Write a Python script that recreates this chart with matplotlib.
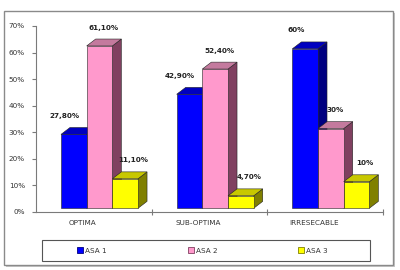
import numpy as np
import matplotlib.pyplot as plt
from matplotlib.patches import Polygon, Rectangle
from matplotlib.lines import Line2D

# Data
categories = ['OPTIMA', 'SUB-OPTIMA', 'IRRESECABLE']
series = ['ASA 1', 'ASA 2', 'ASA 3']
asa1 = [27.8, 42.9, 60.0]
asa2 = [61.1, 52.4, 30.0]
asa3 = [11.1, 4.7, 10.0]
yticks = [0, 10, 20, 30, 40, 50, 60, 70]

# Style
front = ['#0000FF', '#FF99CC', '#FFFF00']
top = ['#0000C0', '#C47A9E', '#C8C800']
side = ['#000080', '#804060', '#808000']
lab_off = [-0.08, 0.035, 0.07]   # label x shift per series
w = 0.222       # bar width (category units)
x0 = 0.216      # first bar offset inside category
dx = 0.078      # depth x
dy = 2.6        # depth y (percent units)
base = 1.4      # floor lift

def fmt(v):
    if float(v).is_integer():
        return f'{int(v)}%'
    return f'{v:.2f}'.replace('.', ',') + '%'

fig = plt.figure(figsize=(4, 2.7), dpi=100)

# Chart frame with shadow
fig.patches.append(Rectangle((6 / 400, 3 / 270), 389 / 400, 254 / 270, transform=fig.transFigure,
                             facecolor='#c8c8c8', edgecolor='none', zorder=0))
fig.patches.append(Rectangle((4 / 400, 5 / 270), 389 / 400, 254 / 270, transform=fig.transFigure,
                             facecolor='white', edgecolor='#8a8a8a', lw=1, zorder=1))
# Legend frame
fig.patches.append(Rectangle((42 / 400, 9 / 270), 328 / 400, 21 / 270, transform=fig.transFigure,
                             facecolor='white', edgecolor='#555555', lw=0.8, zorder=2))

ax = fig.add_axes([36 / 400, 58 / 270, 347 / 400, 186 / 270])
ax.set_zorder(5)
ax.set_xlim(0, 3)
ax.set_ylim(0, 70)
ax.patch.set_alpha(0)

data = [asa1, asa2, asa3]
z = 2
for i in range(len(categories)):
    for s in range(len(series)):
        v = data[s][i]
        xl = i + x0 + s * w
        xr = xl + w
        yt = base + v
        # side face
        ax.add_patch(Polygon([(xr, base), (xr + dx, base + dy), (xr + dx, yt + dy), (xr, yt)],
                             closed=True, facecolor=side[s], edgecolor='#222222', lw=0.4, zorder=z))
        # top face
        ax.add_patch(Polygon([(xl, yt), (xr, yt), (xr + dx, yt + dy), (xl + dx, yt + dy)],
                             closed=True, facecolor=top[s], edgecolor='#222222', lw=0.4, zorder=z))
        # front face
        ax.bar(xl, v, width=w, bottom=base, align='edge', color=front[s],
               edgecolor='#222222', lw=0.4, zorder=z + 0.5)
        z += 1
        ax.text(xl + w / 2 + lab_off[s], yt + dy + 3.2, fmt(v), ha='center', va='bottom',
                fontsize=5.2, fontweight='bold', color='#222222', zorder=50, clip_on=False)

for sp in ['top', 'right']:
    ax.spines[sp].set_visible(False)
for sp in ['left', 'bottom']:
    ax.spines[sp].set_color('#7a7a7a')
    ax.spines[sp].set_linewidth(0.8)

ax.set_yticks(yticks)
ax.set_yticklabels([f'{t}%' for t in yticks])
ax.tick_params(axis='y', direction='out', length=3, color='#7a7a7a', labelsize=5.2,
               labelcolor='#333333', pad=5)

ax.set_xticks([1, 2, 3])
ax.set_xticklabels([])
ax.set_xticks([i + 0.4 for i in range(len(categories))], minor=True)
ax.set_xticklabels(categories, minor=True)
ax.tick_params(axis='x', which='major', direction='inout', length=4, color='#7a7a7a')
ax.tick_params(axis='x', which='minor', length=0, labelsize=5.2, labelcolor='#333333', pad=6)

# Legend
handles = [Line2D([], [], marker='s', linestyle='none', markersize=4.2, markerfacecolor=front[s],
                  markeredgecolor=side[s], markeredgewidth=0.6, label=series[s]) for s in range(3)]
leg = fig.legend(handles=handles, loc='center', bbox_to_anchor=(202 / 400, 1 - 250.5 / 270),
                 ncol=3, frameon=False, fontsize=5.2, columnspacing=11.0,
                 handletextpad=0.1, borderpad=0.3, handlelength=1.2)
leg.set_zorder(6)
for t in leg.get_texts():
    t.set_color('#333333')

plt.savefig('out.png', dpi=100)
